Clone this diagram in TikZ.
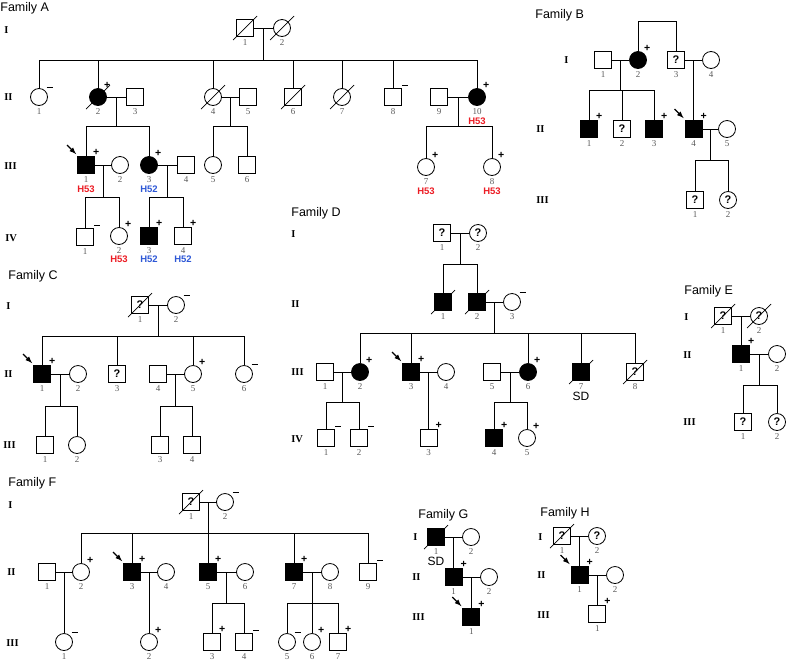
\documentclass[tikz,border=0pt]{standalone}
\usepackage{fontspec}
\setmainfont{Liberation Serif}
\setsansfont{Liberation Sans}
\usepackage{xcolor}
\usepackage{tikz}
\usetikzlibrary{positioning}
\usetikzlibrary{calc}

\definecolor{numgray}{gray}{0.35}
\definecolor{hred}{RGB}{236,28,36}
\definecolor{hblue}{RGB}{46,88,214}

\begin{document}
\begin{tikzpicture}
    [%%%%%%%%%%%%%%%%%%%%%%%%%%%%%%
        x=1pt, y=-1pt, line width=0.8pt,
        male/.style={rectangle,draw=black,line width=0.8pt,minimum size=17pt,inner sep=0pt,fill=white},
        female/.style={circle,draw=black,line width=0.8pt,minimum size=17pt,inner sep=0pt,fill=white},
        aff/.style={fill=black},
        unk/.style={font=\sffamily\bfseries\fontsize{11}{11}\selectfont},
        num/.style={font=\fontsize{9}{9}\selectfont,text=numgray,inner sep=1pt,yshift=-1.5pt},
        sgn/.style={font=\sffamily\bfseries\fontsize{10.5}{10.5}\selectfont,inner sep=0.5pt},
        carrier/.style={label={[sgn]55:+}},
        noncarrier/.style={label={[sgn,inner sep=1.5pt]50:\rule{6pt}{1.6pt}}},
        gen/.style={font=\bfseries\fontsize{10.5}{11}\selectfont,anchor=west,inner sep=0pt},
        fam/.style={font=\sffamily\fontsize{12.5}{14}\selectfont,anchor=west,inner sep=0pt},
        hlab/.style={font=\sffamily\bfseries\fontsize{9.5}{10}\selectfont,inner sep=0pt},
        sdlab/.style={font=\sffamily\fontsize{12}{12}\selectfont,inner sep=0pt},
        slash/.style={line width=0.7pt},
        proband/.style={-latex,line width=1.3pt}
    ]%%%%%%%%%%%%%%%%%%%%%%%%%%%%%%

\useasboundingbox (0,0) rectangle (786,662);

%---------------- Family A
\node[fam] (famA) at (0,8) {Family A};
\node[gen] (gA1) at (4,30) {I};
\node[gen] (gA2) at (4,97) {II};
\node[gen] (gA3) at (4,166) {III};
\node[gen] (gA4) at (5,238) {IV};

\node[male,label={[num]below:1}] (a1-1) at (245,28) {};
\node[female,label={[num]below:2}] (a1-2) at (282,28) {};

\node[female,noncarrier,label={[num]below:1}] (a2-1) at (39,97) {};
\node[female,aff,carrier,label={[num]below:2}] (a2-2) at (98,97) {};
\node[male,label={[num]below:3}] (a2-3) at (135,97) {};
\node[female,label={[num]below:4}] (a2-4) at (213,97) {};
\node[male,label={[num]below:5}] (a2-5) at (248,97) {};
\node[male,label={[num]below:6}] (a2-6) at (293,97) {};
\node[female,label={[num]below:7}] (a2-7) at (342,97) {};
\node[male,noncarrier,label={[num]below:8}] (a2-8) at (393,97) {};
\node[male,label={[num]below:9}] (a2-9) at (439,97) {};
\node[female,aff,carrier,label={[num,name=a2-10n]below:10}] (a2-10) at (477,97) {};
\node[hlab,text=hred,below=1.5pt of a2-10n] (a2-10h) {H53};

\node[male,aff,carrier,label={[num,name=a3-1n]below:1}] (a3-1) at (86,165) {};
\node[female,label={[num]below:2}] (a3-2) at (120,165) {};
\node[female,aff,carrier,label={[num,name=a3-3n]below:3}] (a3-3) at (149,165) {};
\node[male,label={[num]below:4}] (a3-4) at (186,165) {};
\node[female,label={[num]below:5}] (a3-5) at (213,165) {};
\node[male,label={[num]below:6}] (a3-6) at (247,165) {};
\node[female,carrier,label={[num,name=a3-7n]below:7}] (a3-7) at (426,167) {};
\node[female,carrier,label={[num,name=a3-8n]below:8}] (a3-8) at (492,167) {};
\node[hlab,text=hred,below=1.5pt of a3-1n] (a3-1h) {H53};
\node[hlab,text=hblue,below=1.5pt of a3-3n] (a3-3h) {H52};
\node[hlab,text=hred,below=1.5pt of a3-7n] (a3-7h) {H53};
\node[hlab,text=hred,below=1.5pt of a3-8n] (a3-8h) {H53};

\node[male,noncarrier,label={[num]below:1}] (a4-1) at (85,237) {};
\node[female,carrier,label={[num,name=a4-2n]below:2}] (a4-2) at (119,236) {};
\node[male,aff,carrier,label={[num,name=a4-3n]below:3}] (a4-3) at (149,236) {};
\node[male,carrier,label={[num,name=a4-4n]below:4}] (a4-4) at (183,236) {};
\node[hlab,text=hred,below=0.5pt of a4-2n] (a4-2h) {H53};
\node[hlab,text=hblue,below=0.5pt of a4-3n] (a4-3h) {H52};
\node[hlab,text=hblue,below=0.5pt of a4-4n] (a4-4h) {H52};

\draw (a1-1) -- coordinate (mA1) (a1-2);
\draw (a2-2) -- coordinate (mA2) (a2-3);
\draw (a2-4) -- coordinate (mA3) (a2-5);
\draw (a2-9) -- coordinate (mA4) (a2-10);
\draw (a3-1) -- coordinate (mA5) (a3-2);
\draw (a3-3) -- coordinate (mA6) (a3-4);
\coordinate (bA2) at (0,60);
\coordinate (bA3) at (0,126);
\coordinate (bA4) at (0,197);
\draw (mA1) -- (mA1 |- bA2);
\draw (a2-1.north |- bA2) -- (a2-10.north |- bA2);
\foreach \c in {a2-1,a2-2,a2-4,a2-6,a2-7,a2-8,a2-10}
    \draw (\c) -- (\c.north |- bA2);
\foreach \m/\l/\r in {mA2/a3-1/a3-3,mA3/a3-5/a3-6,mA4/a3-7/a3-8}{
    \draw (\m) -- (\m |- bA3);
    \draw (\l.north |- bA3) -- (\r.north |- bA3);
    \draw (\l) -- (\l.north |- bA3);
    \draw (\r) -- (\r.north |- bA3);
}
\foreach \m/\l/\r in {mA5/a4-1/a4-2,mA6/a4-3/a4-4}{
    \draw (\m) -- (\m |- bA4);
    \draw (\l.north |- bA4) -- (\r.north |- bA4);
    \draw (\l) -- (\l.north |- bA4);
    \draw (\r) -- (\r.north |- bA4);
}

%---------------- Family B
\node[fam] (famB) at (535,15) {Family B};
\node[gen] (gB1) at (564,60) {I};
\node[gen] (gB2) at (536,129) {II};
\node[gen] (gB3) at (536,200) {III};

\node[male,label={[num]below:1}] (b1-1) at (603,60) {};
\node[female,aff,carrier,label={[num]below:2}] (b1-2) at (638,60) {};
\node[male,unk,label={[num]below:3}] (b1-3) at (676,60) {?};
\node[female,label={[num]below:4}] (b1-4) at (711,60) {};
\node[male,aff,carrier,label={[num]below:1}] (b2-1) at (589,129) {};
\node[male,unk,label={[num]below:2}] (b2-2) at (622,129) {?};
\node[male,aff,carrier,label={[num]below:3}] (b2-3) at (654,129) {};
\node[male,aff,carrier,label={[num]below:4}] (b2-4) at (693.5,129) {};
\node[female,label={[num]below:5}] (b2-5) at (727,129) {};
\node[male,unk,label={[num]below:1}] (b3-1) at (695,200) {?};
\node[female,unk,label={[num]below:2}] (b3-2) at (728,200) {?};

\coordinate (bB0) at (0,21);
\coordinate (bB2) at (0,90);
\coordinate (bB3) at (0,160);
\draw (b1-2) -- (b1-2.north |- bB0) -- (b1-3.north |- bB0) -- (b1-3);
\draw (b1-1) -- coordinate (mB1) (b1-2);
\draw (b1-3) -- coordinate (mB2) (b1-4);
\draw (b2-4) -- coordinate (mB3) (b2-5);
\draw (mB1) -- (mB1 |- bB2);
\draw (b2-1.north |- bB2) -- (b2-3.north |- bB2);
\foreach \c in {b2-1,b2-2,b2-3}
    \draw (\c) -- (\c.north |- bB2);
\draw (mB2) -- (b2-4);
\draw (mB3) -- (mB3 |- bB3);
\draw (b3-1.north |- bB3) -- (b3-2.north |- bB3);
\foreach \c in {b3-1,b3-2}
    \draw (\c) -- (\c.north |- bB3);

%---------------- Family C
\node[fam] (famC) at (8,276) {Family C};
\node[gen] (gC1) at (6,306) {I};
\node[gen] (gC2) at (4,374) {II};
\node[gen] (gC3) at (3,445) {III};

\node[male,unk,label={[num]below:1}] (c1-1) at (140,305) {?};
\node[female,noncarrier,label={[num]below:2}] (c1-2) at (176,305) {};
\node[male,aff,carrier,label={[num]below:1}] (c2-1) at (42,374) {};
\node[female,label={[num]below:2}] (c2-2) at (78,374) {};
\node[male,unk,label={[num]below:3}] (c2-3) at (117,374) {?};
\node[male,label={[num]below:4}] (c2-4) at (158,374) {};
\node[female,carrier,label={[num]below:5}] (c2-5) at (193,374) {};
\node[female,noncarrier,label={[num]below:6}] (c2-6) at (244,374) {};
\node[male,label={[num]below:1}] (c3-1) at (45,445) {};
\node[female,label={[num]below:2}] (c3-2) at (77,445) {};
\node[male,label={[num]below:3}] (c3-3) at (160,445) {};
\node[male,label={[num]below:4}] (c3-4) at (192,445) {};

\coordinate (bC2) at (0,336);
\coordinate (bC3) at (0,406);
\draw (c1-1) -- coordinate (mC1) (c1-2);
\draw (c2-1) -- coordinate (mC2) (c2-2);
\draw (c2-4) -- coordinate (mC3) (c2-5);
\draw (mC1) -- (mC1 |- bC2);
\draw (c2-1.north |- bC2) -- (c2-6.north |- bC2);
\foreach \c in {c2-1,c2-3,c2-5,c2-6}
    \draw (\c) -- (\c.north |- bC2);
\foreach \m/\l/\r in {mC2/c3-1/c3-2,mC3/c3-3/c3-4}{
    \draw (\m) -- (\m |- bC3);
    \draw (\l.north |- bC3) -- (\r.north |- bC3);
    \draw (\l) -- (\l.north |- bC3);
    \draw (\r) -- (\r.north |- bC3);
}

%---------------- Family D
\node[fam] (famD) at (291,213) {Family D};
\node[gen] (gD1) at (291,234) {I};
\node[gen] (gD2) at (291,304) {II};
\node[gen] (gD3) at (291,372) {III};
\node[gen] (gD4) at (291,439) {IV};

\node[male,unk,label={[num]below:1}] (d1-1) at (442,233) {?};
\node[female,unk,label={[num]below:2}] (d1-2) at (478,233) {?};
\node[male,aff,label={[num]below:1}] (d2-1) at (443,302) {};
\node[male,aff,label={[num]below:2}] (d2-2) at (477,302) {};
\node[female,noncarrier,label={[num]below:3}] (d2-3) at (512,302) {};
\node[male,label={[num]below:1}] (d3-1) at (325,372) {};
\node[female,aff,carrier,label={[num]below:2}] (d3-2) at (360,372) {};
\node[male,aff,carrier,label={[num]below:3}] (d3-3) at (411,372) {};
\node[female,label={[num]below:4}] (d3-4) at (446,372) {};
\node[male,label={[num]below:5}] (d3-5) at (492,372) {};
\node[female,aff,carrier,label={[num]below:6}] (d3-6) at (528,372) {};
\node[male,aff,label={[num,name=d3-7n]below:7}] (d3-7) at (581,372) {};
\node[male,unk,label={[num]below:8}] (d3-8) at (635,372) {?};
\node[sdlab,below=0.5pt of d3-7n] (d3-7s) {SD};
\node[male,noncarrier,label={[num]below:1}] (d4-1) at (326,438) {};
\node[male,noncarrier,label={[num]below:2}] (d4-2) at (359,438) {};
\node[male,carrier,label={[num]below:3}] (d4-3) at (428.5,438) {};
\node[male,aff,carrier,label={[num]below:4}] (d4-4) at (494,438) {};
\node[female,carrier,label={[num]below:5}] (d4-5) at (527,438) {};

\coordinate (bD2) at (0,264);
\coordinate (bD3) at (0,333);
\coordinate (bD4) at (0,402);
\draw (d1-1) -- coordinate (mD1) (d1-2);
\draw (d2-2) -- coordinate (mD2) (d2-3);
\draw (d3-1) -- coordinate (mD3) (d3-2);
\draw (d3-3) -- coordinate (mD4) (d3-4);
\draw (d3-5) -- coordinate (mD5) (d3-6);
\draw (mD1) -- (mD1 |- bD2);
\draw (d2-1.north |- bD2) -- (d2-2.north |- bD2);
\foreach \c in {d2-1,d2-2}
    \draw (\c) -- (\c.north |- bD2);
\draw (mD2) -- (mD2 |- bD3);
\draw (d3-2.north |- bD3) -- (d3-8.north |- bD3);
\foreach \c in {d3-2,d3-3,d3-6,d3-7,d3-8}
    \draw (\c) -- (\c.north |- bD3);
\foreach \m/\l/\r in {mD3/d4-1/d4-2,mD5/d4-4/d4-5}{
    \draw (\m) -- (\m |- bD4);
    \draw (\l.north |- bD4) -- (\r.north |- bD4);
    \draw (\l) -- (\l.north |- bD4);
    \draw (\r) -- (\r.north |- bD4);
}
\draw (mD4) -- (d4-3);

%---------------- Family E
\node[fam] (famE) at (684,291) {Family E};
\node[gen] (gE1) at (684,317) {I};
\node[gen] (gE2) at (683,355) {II};
\node[gen] (gE3) at (683,422) {III};

\node[male,unk,label={[num]below:1}] (e1-1) at (723,316) {?};
\node[female,unk,label={[num]below:2}] (e1-2) at (759,316) {?};
\node[male,aff,carrier,label={[num]below:1}] (e2-1) at (741,354) {};
\node[female,label={[num]below:2}] (e2-2) at (777,354) {};
\node[male,unk,label={[num]below:1}] (e3-1) at (743,422) {?};
\node[female,unk,label={[num]below:2}] (e3-2) at (777,422) {?};

\coordinate (bE3) at (0,385);
\draw (e1-1) -- coordinate (mE1) (e1-2);
\draw (e2-1) -- coordinate (mE2) (e2-2);
\draw (mE1) -- (e2-1);
\draw (mE2) -- (mE2 |- bE3);
\draw (e3-1.north |- bE3) -- (e3-2.north |- bE3);
\foreach \c in {e3-1,e3-2}
    \draw (\c) -- (\c.north |- bE3);

%---------------- Family F
\node[fam] (famF) at (8,483) {Family F};
\node[gen] (gF1) at (8,505) {I};
\node[gen] (gF2) at (7,572) {II};
\node[gen] (gF3) at (6,643) {III};

\node[male,unk,label={[num]below:1}] (f1-1) at (191,502) {?};
\node[female,noncarrier,label={[num]below:2}] (f1-2) at (225,502) {};
\node[male,label={[num]below:1}] (f2-1) at (47,572) {};
\node[female,carrier,label={[num]below:2}] (f2-2) at (81,572) {};
\node[male,aff,carrier,label={[num]below:3}] (f2-3) at (132,572) {};
\node[female,label={[num]below:4}] (f2-4) at (166,572) {};
\node[male,aff,carrier,label={[num]below:5}] (f2-5) at (208,572) {};
\node[female,label={[num]below:6}] (f2-6) at (245,572) {};
\node[male,aff,carrier,label={[num]below:7}] (f2-7) at (294,572) {};
\node[female,label={[num]below:8}] (f2-8) at (330,572) {};
\node[male,noncarrier,label={[num]below:9}] (f2-9) at (368,572) {};
\node[female,noncarrier,label={[num]below:1}] (f3-1) at (64,642) {};
\node[female,carrier,label={[num]below:2}] (f3-2) at (149,642) {};
\node[male,carrier,label={[num]below:3}] (f3-3) at (212,642) {};
\node[male,noncarrier,label={[num]below:4}] (f3-4) at (244,642) {};
\node[female,noncarrier,label={[num]below:5}] (f3-5) at (287,642) {};
\node[female,carrier,label={[num]below:6}] (f3-6) at (312,642) {};
\node[male,carrier,label={[num]below:7}] (f3-7) at (338,642) {};

\coordinate (bF2) at (0,533);
\coordinate (bF3) at (0,603);
\draw (f1-1) -- coordinate (mF1) (f1-2);
\draw (f2-1) -- coordinate (mF2) (f2-2);
\draw (f2-3) -- coordinate (mF3) (f2-4);
\draw (f2-5) -- coordinate (mF4) (f2-6);
\draw (f2-7) -- coordinate (mF5) (f2-8);
\draw (mF1) -- (mF1 |- bF2);
\draw (f2-2.north |- bF2) -- (f2-9.north |- bF2);
\foreach \c in {f2-2,f2-3,f2-5,f2-7,f2-9}
    \draw (\c) -- (\c.north |- bF2);
\draw (mF2) -- (f3-1);
\draw (mF3) -- (f3-2);
\draw (mF4) -- (mF4 |- bF3);
\draw (f3-3.north |- bF3) -- (f3-4.north |- bF3);
\draw (mF5) -- (mF5 |- bF3);
\draw (f3-5.north |- bF3) -- (f3-7.north |- bF3);
\foreach \c in {f3-3,f3-4,f3-5,f3-6,f3-7}
    \draw (\c) -- (\c.north |- bF3);

%---------------- Family G
\node[fam] (famG) at (418,515) {Family G};
\node[gen] (gG1) at (413,537) {I};
\node[gen] (gG2) at (412,577) {II};
\node[gen] (gG3) at (412,617) {III};

\node[male,aff,label={[num,name=g1-1n]below:1}] (g1-1) at (436,537) {};
\node[female,label={[num]below:2}] (g1-2) at (471,537) {};
\node[sdlab,below=1pt of g1-1n] (g1-1s) {SD};
\node[male,aff,carrier,label={[num]below:1}] (g2-1) at (453.5,577) {};
\node[female,label={[num]below:2}] (g2-2) at (489,577) {};
\node[male,aff,carrier,label={[num]below:1}] (g3-1) at (471.25,617) {};

\draw (g1-1) -- coordinate (mG1) (g1-2);
\draw (g2-1) -- coordinate (mG2) (g2-2);
\draw (mG1) -- (g2-1);
\draw (mG2) -- (g3-1);

%---------------- Family H
\node[fam] (famH) at (540,513) {Family H};
\node[gen] (gH1) at (538,537) {I};
\node[gen] (gH2) at (537,575) {II};
\node[gen] (gH3) at (537,615) {III};

\node[male,unk,label={[num]below:1}] (h1-1) at (562,536) {?};
\node[female,unk,label={[num]below:2}] (h1-2) at (597,536) {?};
\node[male,aff,carrier,label={[num]below:1}] (h2-1) at (579.5,575) {};
\node[female,label={[num]below:2}] (h2-2) at (615,575) {};
\node[male,carrier,label={[num]below:1}] (h3-1) at (597.25,614) {};

\draw (h1-1) -- coordinate (mH1) (h1-2);
\draw (h2-1) -- coordinate (mH2) (h2-2);
\draw (mH1) -- (h2-1);
\draw (mH2) -- (h3-1);

%---------------- deceased and probands
\foreach \n in {a1-1,a1-2,a2-2,a2-4,a2-6,a2-7,c1-1,d2-1,d2-2,d3-7,d3-8,e1-1,e1-2,f1-1,g1-1,h1-1}
    \draw[slash] ($(\n)+(-12pt,-12pt)$) -- ($(\n)+(12pt,12pt)$);
\foreach \n in {a3-1,b2-4,c2-1,d3-3,f2-3,g3-1,h2-1}
    \draw[proband] ($(\n.north west)+(-10pt,11pt)$) -- ($(\n.north west)+(-1pt,2pt)$);

\end{tikzpicture}
\end{document}
